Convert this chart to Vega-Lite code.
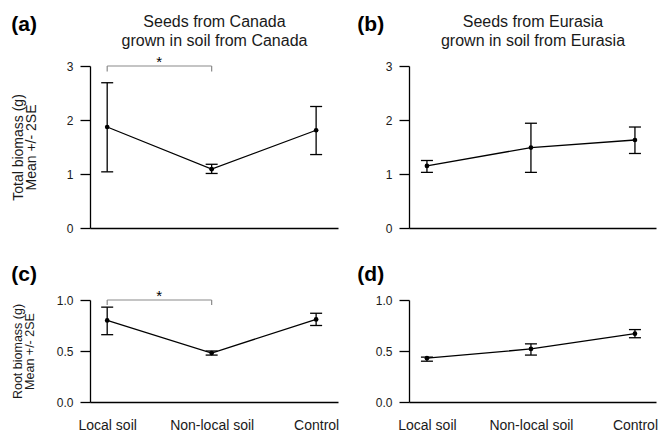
{
  "$schema": "https://vega.github.io/schema/vega-lite/v6.json",
  "padding": {"left": 11, "top": 13, "right": 0, "bottom": 0},
  "background": "white",
  "datasets": {
    "means": [
      {"panel": "a", "soil": "Local soil", "mean": 1.87, "lo": 1.04, "hi": 2.69},
      {"panel": "a", "soil": "Non-local soil", "mean": 1.09, "lo": 1.01, "hi": 1.18},
      {"panel": "a", "soil": "Control", "mean": 1.81, "lo": 1.36, "hi": 2.25},
      {"panel": "b", "soil": "Local soil", "mean": 1.15, "lo": 1.03, "hi": 1.25},
      {"panel": "b", "soil": "Non-local soil", "mean": 1.49, "lo": 1.03, "hi": 1.94},
      {"panel": "b", "soil": "Control", "mean": 1.63, "lo": 1.38, "hi": 1.87},
      {"panel": "c", "soil": "Local soil", "mean": 0.8, "lo": 0.66, "hi": 0.93},
      {"panel": "c", "soil": "Non-local soil", "mean": 0.48, "lo": 0.46, "hi": 0.5},
      {"panel": "c", "soil": "Control", "mean": 0.81, "lo": 0.75, "hi": 0.87},
      {"panel": "d", "soil": "Local soil", "mean": 0.43, "lo": 0.4, "hi": 0.44},
      {"panel": "d", "soil": "Non-local soil", "mean": 0.52, "lo": 0.46, "hi": 0.57},
      {"panel": "d", "soil": "Control", "mean": 0.67, "lo": 0.63, "hi": 0.71}
    ],
    "brackets": [
      {"panel": "a", "from": "Local soil", "to": "Non-local soil", "top": 3.0, "bottom": 2.9, "label": "*"},
      {"panel": "c", "from": "Local soil", "to": "Non-local soil", "top": 1.0, "bottom": 0.95, "label": "*"}
    ]
  },
  "columns": 2,
  "bounds": "flush",
  "spacing": {"row": 72, "column": 71},
  "concat": [
    {
      "width": 248, "height": 162,
      "title": {"text": "(a)", "anchor": "start", "frame": "bounds", "fontSize": 21, "fontWeight": "bold", "offset": -22},
      "layer": [
        {
          "data": {"name": "means"},
          "transform": [{"filter": "datum.panel === 'a'"}],
          "mark": {"type": "rule", "color": "black", "strokeWidth": 1.3},
          "encoding": {
            "x": {"field": "soil", "type": "nominal", "sort": ["Local soil", "Non-local soil", "Control"], "scale": {"type": "point", "domain": ["Local soil", "Non-local soil", "Control"], "padding": 0.187, "align": 0.44},
                  "axis": {"orient": "bottom", "title": null, "labels": false, "ticks": false, "tickSize": 0, "domain": true}},
            "y": {"field": "lo", "type": "quantitative", "scale": {"domain": [0, 3], "nice": false, "zero": true},
                  "axis": {"title": ["Total biomass (g)", "Mean +/- 2SE"], "values": [0, 1, 2, 3], "format": "d", "tickSize": 10, "labelPadding": 7, "labelFontSize": 12, "titleFontSize": 14, "titleLineHeight": 13, "titlePadding": 28}},
            "y2": {"field": "hi"}
          }
        },
        {
          "data": {"name": "means"},
          "transform": [{"filter": "datum.panel === 'a'"}],
          "mark": {"type": "tick", "orient": "horizontal", "color": "black", "size": 12, "thickness": 1.3, "opacity": 1},
          "encoding": {"x": {"field": "soil", "type": "nominal", "sort": ["Local soil", "Non-local soil", "Control"], "axis": null}, "y": {"field": "lo", "type": "quantitative"}}
        },
        {
          "data": {"name": "means"},
          "transform": [{"filter": "datum.panel === 'a'"}],
          "mark": {"type": "tick", "orient": "horizontal", "color": "black", "size": 12, "thickness": 1.3, "opacity": 1},
          "encoding": {"x": {"field": "soil", "type": "nominal", "sort": ["Local soil", "Non-local soil", "Control"], "axis": null}, "y": {"field": "hi", "type": "quantitative"}}
        },
        {
          "data": {"name": "means"},
          "transform": [{"filter": "datum.panel === 'a'"}],
          "mark": {"type": "line", "color": "black", "strokeWidth": 1.3},
          "encoding": {
            "x": {"field": "soil", "type": "nominal", "sort": ["Local soil", "Non-local soil", "Control"],
                  "axis": {"orient": "top", "title": ["Seeds from Canada", "grown in soil from Canada"], "labels": false, "ticks": false, "tickSize": 0, "domain": false, "titleFontSize": 16, "titleLineHeight": 19, "titlePadding": 18}},
            "y": {"field": "mean", "type": "quantitative"}
          }
        },
        {
          "data": {"name": "means"},
          "transform": [{"filter": "datum.panel === 'a'"}],
          "mark": {"type": "circle", "color": "black", "size": 22, "opacity": 1},
          "encoding": {"x": {"field": "soil", "type": "nominal", "sort": ["Local soil", "Non-local soil", "Control"], "axis": null}, "y": {"field": "mean", "type": "quantitative"}}
        },
        {
          "data": {"name": "brackets"},
          "transform": [{"filter": "datum.panel === 'a'"}],
          "mark": {"type": "rule", "color": "#8a8a8a", "strokeWidth": 1.2},
          "encoding": {"x": {"field": "from", "type": "nominal", "sort": ["Local soil", "Non-local soil", "Control"], "axis": null}, "x2": {"field": "to"}, "y": {"field": "top", "type": "quantitative"}}
        },
        {
          "data": {"name": "brackets"},
          "transform": [{"filter": "datum.panel === 'a'"}],
          "mark": {"type": "rule", "color": "#8a8a8a", "strokeWidth": 1.2},
          "encoding": {"x": {"field": "from", "type": "nominal", "sort": ["Local soil", "Non-local soil", "Control"], "axis": null}, "y": {"field": "top", "type": "quantitative"}, "y2": {"field": "bottom"}}
        },
        {
          "data": {"name": "brackets"},
          "transform": [{"filter": "datum.panel === 'a'"}],
          "mark": {"type": "rule", "color": "#8a8a8a", "strokeWidth": 1.2},
          "encoding": {"x": {"field": "to", "type": "nominal", "sort": ["Local soil", "Non-local soil", "Control"], "axis": null}, "y": {"field": "top", "type": "quantitative"}, "y2": {"field": "bottom"}}
        },
        {
          "data": {"name": "brackets"},
          "transform": [{"filter": "datum.panel === 'a'"}],
          "mark": {"type": "text", "fontSize": 15, "color": "black", "dx": 52, "dy": 4, "baseline": "bottom"},
          "encoding": {"x": {"field": "from", "type": "nominal", "sort": ["Local soil", "Non-local soil", "Control"], "axis": null}, "y": {"field": "top", "type": "quantitative"}, "text": {"field": "label"}}
        }
      ],
      "resolve": {"axis": {"x": "independent"}}
    },
    {
      "width": 247, "height": 162,
      "title": {"text": "(b)", "anchor": "start", "frame": "bounds", "fontSize": 21, "fontWeight": "bold", "offset": -22, "dx": -28},
      "layer": [
        {
          "data": {"name": "means"},
          "transform": [{"filter": "datum.panel === 'b'"}],
          "mark": {"type": "rule", "color": "black", "strokeWidth": 1.3},
          "encoding": {
            "x": {"field": "soil", "type": "nominal", "sort": ["Local soil", "Non-local soil", "Control"], "scale": {"type": "point", "domain": ["Local soil", "Non-local soil", "Control"], "padding": 0.1875, "align": 0.46},
                  "axis": {"orient": "bottom", "title": null, "labels": false, "ticks": false, "tickSize": 0, "domain": true}},
            "y": {"field": "lo", "type": "quantitative", "scale": {"domain": [0, 3], "nice": false, "zero": true},
                  "axis": {"title": null, "values": [0, 1, 2, 3], "format": "d", "tickSize": 10, "labelPadding": 7, "labelFontSize": 12}},
            "y2": {"field": "hi"}
          }
        },
        {
          "data": {"name": "means"},
          "transform": [{"filter": "datum.panel === 'b'"}],
          "mark": {"type": "tick", "orient": "horizontal", "color": "black", "size": 12, "thickness": 1.3, "opacity": 1},
          "encoding": {"x": {"field": "soil", "type": "nominal", "sort": ["Local soil", "Non-local soil", "Control"], "axis": null}, "y": {"field": "lo", "type": "quantitative"}}
        },
        {
          "data": {"name": "means"},
          "transform": [{"filter": "datum.panel === 'b'"}],
          "mark": {"type": "tick", "orient": "horizontal", "color": "black", "size": 12, "thickness": 1.3, "opacity": 1},
          "encoding": {"x": {"field": "soil", "type": "nominal", "sort": ["Local soil", "Non-local soil", "Control"], "axis": null}, "y": {"field": "hi", "type": "quantitative"}}
        },
        {
          "data": {"name": "means"},
          "transform": [{"filter": "datum.panel === 'b'"}],
          "mark": {"type": "line", "color": "black", "strokeWidth": 1.3},
          "encoding": {
            "x": {"field": "soil", "type": "nominal", "sort": ["Local soil", "Non-local soil", "Control"],
                  "axis": {"orient": "top", "title": ["Seeds from Eurasia", "grown in soil from Eurasia"], "labels": false, "ticks": false, "tickSize": 0, "domain": false, "titleFontSize": 16, "titleLineHeight": 19, "titlePadding": 18}},
            "y": {"field": "mean", "type": "quantitative"}
          }
        },
        {
          "data": {"name": "means"},
          "transform": [{"filter": "datum.panel === 'b'"}],
          "mark": {"type": "circle", "color": "black", "size": 22, "opacity": 1},
          "encoding": {"x": {"field": "soil", "type": "nominal", "sort": ["Local soil", "Non-local soil", "Control"], "axis": null}, "y": {"field": "mean", "type": "quantitative"}}
        }
      ],
      "resolve": {"axis": {"x": "independent"}}
    },
    {
      "width": 248, "height": 102,
      "title": {"text": "(c)", "anchor": "start", "frame": "bounds", "fontSize": 21, "fontWeight": "bold", "offset": 4},
      "layer": [
        {
          "data": {"name": "means"},
          "transform": [{"filter": "datum.panel === 'c'"}],
          "mark": {"type": "rule", "color": "black", "strokeWidth": 1.3},
          "encoding": {
            "x": {"field": "soil", "type": "nominal", "sort": ["Local soil", "Non-local soil", "Control"], "scale": {"type": "point", "domain": ["Local soil", "Non-local soil", "Control"], "padding": 0.187, "align": 0.44},
                  "axis": {"orient": "bottom", "title": null, "labels": true, "labelAngle": 0, "labelFontSize": 14, "labelPadding": 16, "ticks": false, "tickSize": 0, "domain": true}},
            "y": {"field": "lo", "type": "quantitative", "scale": {"domain": [0, 1], "nice": false, "zero": true},
                  "axis": {"title": ["Root biomass (g)", "Mean +/- 2SE"], "values": [0, 0.5, 1], "format": ".1f", "tickSize": 10, "labelPadding": 7, "labelFontSize": 12, "titleFontSize": 12.5, "titleLineHeight": 12, "titlePadding": 20}},
            "y2": {"field": "hi"}
          }
        },
        {
          "data": {"name": "means"},
          "transform": [{"filter": "datum.panel === 'c'"}],
          "mark": {"type": "tick", "orient": "horizontal", "color": "black", "size": 12, "thickness": 1.3, "opacity": 1},
          "encoding": {"x": {"field": "soil", "type": "nominal", "sort": ["Local soil", "Non-local soil", "Control"], "axis": null}, "y": {"field": "lo", "type": "quantitative"}}
        },
        {
          "data": {"name": "means"},
          "transform": [{"filter": "datum.panel === 'c'"}],
          "mark": {"type": "tick", "orient": "horizontal", "color": "black", "size": 12, "thickness": 1.3, "opacity": 1},
          "encoding": {"x": {"field": "soil", "type": "nominal", "sort": ["Local soil", "Non-local soil", "Control"], "axis": null}, "y": {"field": "hi", "type": "quantitative"}}
        },
        {
          "data": {"name": "means"},
          "transform": [{"filter": "datum.panel === 'c'"}],
          "mark": {"type": "line", "color": "black", "strokeWidth": 1.3},
          "encoding": {"x": {"field": "soil", "type": "nominal", "sort": ["Local soil", "Non-local soil", "Control"], "axis": null}, "y": {"field": "mean", "type": "quantitative"}}
        },
        {
          "data": {"name": "means"},
          "transform": [{"filter": "datum.panel === 'c'"}],
          "mark": {"type": "circle", "color": "black", "size": 22, "opacity": 1},
          "encoding": {"x": {"field": "soil", "type": "nominal", "sort": ["Local soil", "Non-local soil", "Control"], "axis": null}, "y": {"field": "mean", "type": "quantitative"}}
        },
        {
          "data": {"name": "brackets"},
          "transform": [{"filter": "datum.panel === 'c'"}],
          "mark": {"type": "rule", "color": "#8a8a8a", "strokeWidth": 1.2},
          "encoding": {"x": {"field": "from", "type": "nominal", "sort": ["Local soil", "Non-local soil", "Control"], "axis": null}, "x2": {"field": "to"}, "y": {"field": "top", "type": "quantitative"}}
        },
        {
          "data": {"name": "brackets"},
          "transform": [{"filter": "datum.panel === 'c'"}],
          "mark": {"type": "rule", "color": "#8a8a8a", "strokeWidth": 1.2},
          "encoding": {"x": {"field": "from", "type": "nominal", "sort": ["Local soil", "Non-local soil", "Control"], "axis": null}, "y": {"field": "top", "type": "quantitative"}, "y2": {"field": "bottom"}}
        },
        {
          "data": {"name": "brackets"},
          "transform": [{"filter": "datum.panel === 'c'"}],
          "mark": {"type": "rule", "color": "#8a8a8a", "strokeWidth": 1.2},
          "encoding": {"x": {"field": "to", "type": "nominal", "sort": ["Local soil", "Non-local soil", "Control"], "axis": null}, "y": {"field": "top", "type": "quantitative"}, "y2": {"field": "bottom"}}
        },
        {
          "data": {"name": "brackets"},
          "transform": [{"filter": "datum.panel === 'c'"}],
          "mark": {"type": "text", "fontSize": 15, "color": "black", "dx": 52, "dy": 4, "baseline": "bottom"},
          "encoding": {"x": {"field": "from", "type": "nominal", "sort": ["Local soil", "Non-local soil", "Control"], "axis": null}, "y": {"field": "top", "type": "quantitative"}, "text": {"field": "label"}}
        }
      ],
      "resolve": {"axis": {"x": "independent"}}
    },
    {
      "width": 247, "height": 102,
      "title": {"text": "(d)", "anchor": "start", "frame": "bounds", "fontSize": 21, "fontWeight": "bold", "offset": 9, "dx": -18},
      "layer": [
        {
          "data": {"name": "means"},
          "transform": [{"filter": "datum.panel === 'd'"}],
          "mark": {"type": "rule", "color": "black", "strokeWidth": 1.3},
          "encoding": {
            "x": {"field": "soil", "type": "nominal", "sort": ["Local soil", "Non-local soil", "Control"], "scale": {"type": "point", "domain": ["Local soil", "Non-local soil", "Control"], "padding": 0.1875, "align": 0.46},
                  "axis": {"orient": "bottom", "title": null, "labels": true, "labelAngle": 0, "labelFontSize": 14, "labelPadding": 16, "ticks": false, "tickSize": 0, "domain": true}},
            "y": {"field": "lo", "type": "quantitative", "scale": {"domain": [0, 1], "nice": false, "zero": true},
                  "axis": {"title": null, "values": [0, 0.5, 1], "format": ".1f", "tickSize": 10, "labelPadding": 7, "labelFontSize": 12}},
            "y2": {"field": "hi"}
          }
        },
        {
          "data": {"name": "means"},
          "transform": [{"filter": "datum.panel === 'd'"}],
          "mark": {"type": "tick", "orient": "horizontal", "color": "black", "size": 12, "thickness": 1.3, "opacity": 1},
          "encoding": {"x": {"field": "soil", "type": "nominal", "sort": ["Local soil", "Non-local soil", "Control"], "axis": null}, "y": {"field": "lo", "type": "quantitative"}}
        },
        {
          "data": {"name": "means"},
          "transform": [{"filter": "datum.panel === 'd'"}],
          "mark": {"type": "tick", "orient": "horizontal", "color": "black", "size": 12, "thickness": 1.3, "opacity": 1},
          "encoding": {"x": {"field": "soil", "type": "nominal", "sort": ["Local soil", "Non-local soil", "Control"], "axis": null}, "y": {"field": "hi", "type": "quantitative"}}
        },
        {
          "data": {"name": "means"},
          "transform": [{"filter": "datum.panel === 'd'"}],
          "mark": {"type": "line", "color": "black", "strokeWidth": 1.3},
          "encoding": {"x": {"field": "soil", "type": "nominal", "sort": ["Local soil", "Non-local soil", "Control"], "axis": null}, "y": {"field": "mean", "type": "quantitative"}}
        },
        {
          "data": {"name": "means"},
          "transform": [{"filter": "datum.panel === 'd'"}],
          "mark": {"type": "circle", "color": "black", "size": 22, "opacity": 1},
          "encoding": {"x": {"field": "soil", "type": "nominal", "sort": ["Local soil", "Non-local soil", "Control"], "axis": null}, "y": {"field": "mean", "type": "quantitative"}}
        }
      ],
      "resolve": {"axis": {"x": "independent"}}
    }
  ],
  "config": {
    "font": "Liberation Sans",
    "view": {"stroke": null},
    "axis": {"grid": false, "domainColor": "black", "domainWidth": 1.3, "tickColor": "black", "tickWidth": 1.3, "labelColor": "#1a1a1a", "titleColor": "#1a1a1a", "titleFontWeight": "normal", "labelFont": "Liberation Sans", "titleFont": "Liberation Sans"},
    "title": {"font": "Liberation Sans", "color": "black"}
  }
}
